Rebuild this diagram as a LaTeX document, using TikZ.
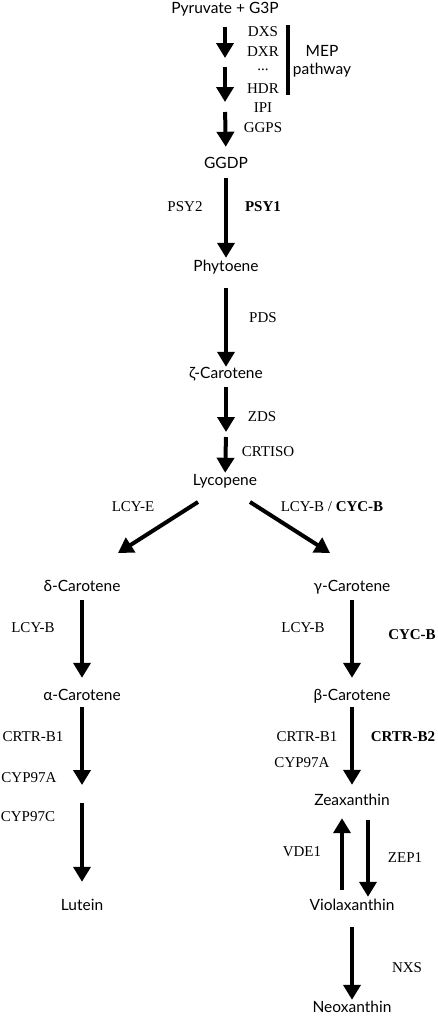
\documentclass[tikz,border=0pt]{standalone}
\usepackage{fontspec}
\setmainfont{Liberation Serif}
\setsansfont{Lato}
\usetikzlibrary{arrows.meta}

\tikzset{
  cmpd/.style={font=\sffamily\fontsize{15.5}{18}\selectfont, inner sep=0pt, text height=10pt, text depth=3pt},
  enz/.style={font=\fontsize{15}{17}\selectfont, inner sep=0pt},
  enzb/.style={font=\bfseries\fontsize{15}{17}\selectfont, inner sep=0pt},
  arr/.style={line width=4pt, -{Triangle[width=17pt,length=15pt]}},
}

\begin{document}
\begin{tikzpicture}[x=1pt,y=-1pt]
\useasboundingbox (0,0) rectangle (437,1017);

% compounds
\node[cmpd] (pyr) at (225,10) {Pyruvate + G3P};
\node[cmpd] (ggdp) at (226,165) {GGDP};
\node[cmpd] (phyt) at (226,268) {Phytoene};
\node[cmpd] (zeta) at (226,375) {ζ-Carotene};
\node[cmpd] (lyc) at (225,482) {Lycopene};
\node[cmpd] (delta) at (82,588) {δ-Carotene};
\node[cmpd] (gamma) at (352,588) {γ-Carotene};
\node[cmpd] (alpha) at (82,697) {α-Carotene};
\node[cmpd] (beta) at (352,697) {β-Carotene};
\node[cmpd] (lut) at (82,907) {Lutein};
\node[cmpd] (zea) at (352,802) {Zeaxanthin};
\node[cmpd] (viola) at (352,907) {Violaxanthin};
\node[cmpd] (neo) at (352,1009) {Neoxanthin};

% enzymes
\node[enz] (dxs) at (263,32) {DXS};
\node[enz] (dxr) at (263,52) {DXR};
\node[enz] (dots) at (263,70) {...};
\node[enz] (hdr) at (263,89) {HDR};
\node[enz] (ipi) at (263,108) {IPI};
\node[enz] (ggps) at (263,128) {GGPS};
\node[cmpd, align=center, text height=, text depth=] (mep) at (322,61) {MEP\\pathway};
\coordinate (bartop) at (288,25);
\coordinate (barbot) at (288,95);
\draw[line width=4pt] (bartop) -- (barbot);

\node[enz] (psy2) at (185,207) {PSY2};
\node[enzb] (psy1) at (263,207) {PSY1};
\node[enz] (pds) at (263,318) {PDS};
\node[enz] (zds) at (262,417) {ZDS};
\node[enz] (crtiso) at (268,452) {CRTISO};
\node[enz] (lcye) at (133,507) {LCY-E};
\node[enz] (lcybc) at (332,507) {LCY-B / \textbf{CYC-B}};
\node[enz] (lcyb1) at (33,628) {LCY-B};
\node[enz] (lcyb2) at (303,628) {LCY-B};
\node[enzb] (cycb) at (412,635) {CYC-B};
\node[enz] (crtrb1a) at (33,737) {CRTR-B1};
\node[enz] (cyp97a1) at (29,778) {CYP97A};
\node[enz] (cyp97c) at (28,817) {CYP97C};
\node[enz] (crtrb1b) at (307,737) {CRTR-B1};
\node[enz] (cyp97a2) at (302,763) {CYP97A};
\node[enzb] (crtrb2) at (403,737) {CRTR-B2};
\node[enz] (vde1) at (302,852) {VDE1};
\node[enz] (zep1) at (405,858) {ZEP1};
\node[enz] (nxs) at (407,968) {NXS};

% arrows
\coordinate (g1) at (225,62.5);
\coordinate (g2) at (225,107);
\coordinate (g3) at (82,794);
\coordinate (g4) at (226,434.5);
\draw[arr, shorten <=10.5pt, shorten >=4.5pt] (pyr.south) -- (g1);
\draw[arr, shorten <=4.5pt, shorten >=5pt] (g1) -- (g2);
\draw[arr, shorten <=5pt, shorten >=11.5pt] (g2) -- (ggdp.north);
\draw[arr, shorten <=6.5pt, shorten >=3.5pt] (ggdp) -- (phyt);
\draw[arr, shorten <=13.5pt, shorten >=1.5pt] (phyt) -- (zeta);
\draw[arr, shorten <=5.5pt, shorten >=2.5pt] (zeta) -- (g4);
\draw[arr, shorten <=2.5pt, shorten >=2.5pt] (g4) -- (lyc);
\draw[arr] ([shift={(-27,20)}]lyc.center) -- ([shift={(36,-35)}]delta.center);
\draw[arr] ([shift={(25,20)}]lyc.center) -- ([shift={(-22,-35)}]gamma.center);
\draw[arr, shorten <=5.5pt, shorten >=12.5pt] (delta) -- (alpha);
\draw[arr, shorten <=5.5pt, shorten >=12.5pt] (gamma) -- (beta);
\draw[arr, shorten <=3.5pt, shorten >=9pt] (alpha) -- (g3);
\draw[arr, shorten <=9pt, shorten >=18.5pt] (g3) -- (lut);
\draw[arr, shorten <=3.5pt, shorten >=10.5pt] (beta) -- (zea);
\draw[arr, shorten <=10.5pt, shorten >=9.5pt] ([xshift=-10pt]viola.north) -- ([xshift=-10pt]zea.south);
\draw[arr, shorten <=11.5pt, shorten >=3.5pt] ([xshift=16pt]zea.south) -- ([xshift=16pt]viola.north);
\draw[arr, shorten <=13.5pt, shorten >=2.5pt] (viola) -- (neo);
\end{tikzpicture}
\end{document}
